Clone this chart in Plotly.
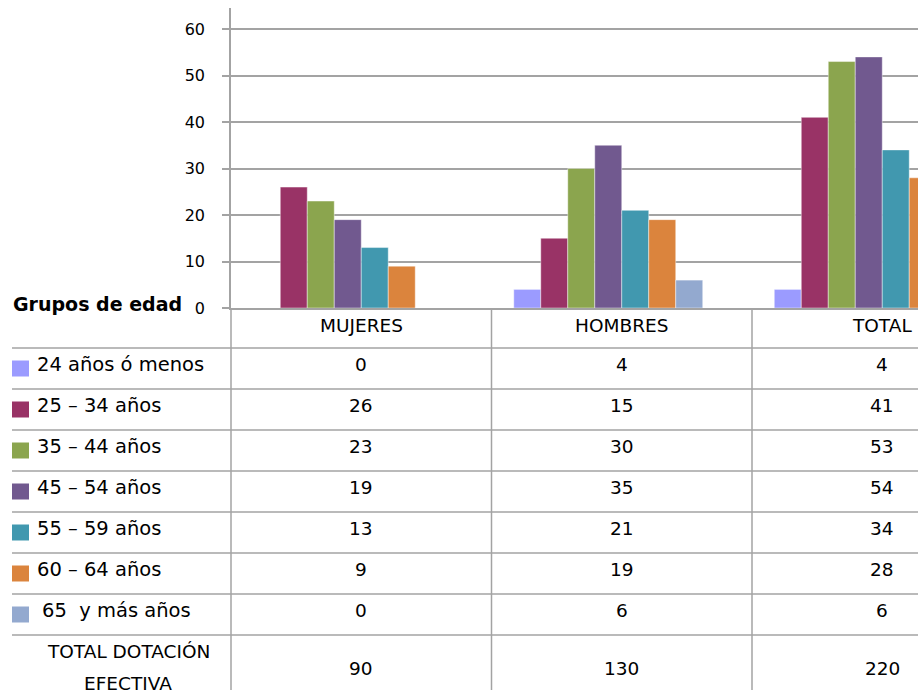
import plotly.graph_objects as go

# ---------------- data ----------------
categories = ["MUJERES", "HOMBRES", "TOTAL"]
series_names = ["24 años ó menos", "25 – 34 años", "35 – 44 años", "45 – 54 años",
                "55 – 59 años", "60 – 64 años", "65  y más años"]
series_values = [
    [0, 4, 4],
    [26, 15, 41],
    [23, 30, 53],
    [19, 35, 54],
    [13, 21, 34],
    [9, 19, 28],
    [0, 6, 6],
]
total_label = "TOTAL DOTACIÓN EFECTIVA"
total_values = [90, 130, 220]
colors = ["#9B9BFF", "#993366", "#8BA54E", "#71598F", "#4198AF", "#DB843D", "#93A9CF"]
y_ticks = [0, 10, 20, 30, 40, 50, 60]

# ---------------- layout geometry (pixels) ----------------
W, H = 922, 696
L, R, T, B = 231, 918, 8, 308          # plot area
CAT_W = 260.5                           # pixel width of one category
XMIN = -0.5
XMAX = XMIN + (R - L) / CAT_W
YMAX = (B - T) / 46.5 * 10              # 10 units = 46.5 px

def pxx(p):  # pixel x -> paper
    return (p - L) / (R - L)

def pxy(p):  # pixel y -> paper
    return (B - p) / (B - T)

def datax_to_paper(x):
    return (x - XMIN) / (XMAX - XMIN)

FONT = "DejaVu Sans"
GRID = "#A3A3A3"
TXT = 18.5

fig = go.Figure()
for name, vals, col in zip(series_names, series_values, colors):
    fig.add_trace(go.Bar(
        x=list(range(len(categories))), y=vals, name=name,
        marker=dict(color=col, line=dict(color="rgba(255,255,255,0.55)", width=0.8)),
        showlegend=False,
    ))
# the total series is part of the chart but has no fill (keeps Excel spacing)
fig.add_trace(go.Bar(
    x=list(range(len(categories))), y=total_values, name=total_label,
    marker=dict(color="rgba(0,0,0,0)", line=dict(width=0, color="rgba(0,0,0,0)")),
    opacity=0, showlegend=False, hoverinfo="skip",
))

shapes = []
ann = []
line = dict(color=GRID, width=1.5)

# table geometry
HEADER_BOTTOM = 348
ROW_H = 41
TABLE_BOTTOM = 690
TABLE_LEFT = 12

# horizontal table lines
for i in range(len(series_names) + 1):
    yp = HEADER_BOTTOM + i * ROW_H
    shapes.append(dict(type="line", xref="paper", yref="paper",
                       x0=pxx(TABLE_LEFT), x1=1, y0=pxy(yp), y1=pxy(yp), line=line))
# vertical table lines (axis continuation + category boundaries)
shapes.append(dict(type="line", xref="paper", yref="paper",
                   x0=0, x1=0, y0=pxy(B), y1=pxy(TABLE_BOTTOM), line=line))
for k in range(len(categories) - 1):
    xp = datax_to_paper(k + 0.5)
    shapes.append(dict(type="line", xref="paper", yref="paper",
                       x0=xp, x1=xp, y0=pxy(B), y1=pxy(TABLE_BOTTOM), line=line))

# header
for k, c in enumerate(categories):
    ann.append(dict(text=c, x=k, xref="x", y=pxy(325), yref="paper",
                    showarrow=False, xanchor="center", yanchor="middle",
                    font=dict(family=FONT, size=TXT, color="#000")))

# rows
for i, (name, vals, col) in enumerate(zip(series_names, series_values, colors)):
    top = HEADER_BOTTOM + i * ROW_H
    yc = top + 16.5
    shapes.append(dict(type="rect", xref="paper", yref="paper",
                       x0=pxx(12), x1=pxx(29), y0=pxy(top + 12.5), y1=pxy(top + 28.5),
                       fillcolor=col, line=dict(width=0)))
    xstart = 40 if i == len(series_names) - 1 else 35
    ann.append(dict(text=name.replace("  ", "\u00a0 "), x=pxx(xstart), xref="paper",
                    y=pxy(yc), yref="paper", showarrow=False,
                    xanchor="left", yanchor="middle",
                    font=dict(family=FONT, size=19.5, color="#000")))
    for k, v in enumerate(vals):
        ann.append(dict(text=str(v), x=k, xref="x", y=pxy(yc), yref="paper",
                        showarrow=False, xanchor="center", yanchor="middle",
                        font=dict(family=FONT, size=TXT, color="#000")))

# total row
tl1, tl2 = total_label.rsplit(" ", 1)
ann.append(dict(text=tl1, x=pxx(128), xref="paper", y=pxy(651), yref="paper",
                showarrow=False, xanchor="center", yanchor="middle",
                font=dict(family=FONT, size=TXT, color="#000")))
ann.append(dict(text=tl2, x=pxx(128), xref="paper", y=pxy(683), yref="paper",
                showarrow=False, xanchor="center", yanchor="middle",
                font=dict(family=FONT, size=TXT, color="#000")))
for k, v in enumerate(total_values):
    ann.append(dict(text=str(v), x=k, xref="x", y=pxy(668), yref="paper",
                    showarrow=False, xanchor="center", yanchor="middle",
                    font=dict(family=FONT, size=TXT, color="#000")))

# corner label
ann.append(dict(text="<b>Grupos de edad</b>", x=pxx(184), xref="paper", y=pxy(304),
                yref="paper", showarrow=False, xanchor="right", yanchor="middle",
                font=dict(family=FONT, size=19, color="#000")))

fig.update_layout(
    width=W, height=H,
    margin=dict(l=L, r=W - R, t=T, b=H - B),
    paper_bgcolor="white", plot_bgcolor="white",
    barmode="group", bargap=0.171, bargroupgap=0,
    shapes=shapes, annotations=ann,
    xaxis=dict(range=[XMIN, XMAX], showticklabels=False, showgrid=False,
               zeroline=False, showline=True, linecolor=GRID, linewidth=1.5,
               ticks=""),
    yaxis=dict(range=[0, YMAX], tickvals=y_ticks, ticktext=[str(t) for t in y_ticks],
               showgrid=True, gridcolor=GRID, gridwidth=1.5, zeroline=False,
               showline=True, linecolor=GRID, linewidth=1.5,
               ticks="outside", ticklen=7, tickcolor=GRID, tickwidth=1.5,
               ticklabelstandoff=14,
               tickfont=dict(family=FONT, size=16, color="#000")),
    font=dict(family=FONT),
)

fig.write_html("out.html")
